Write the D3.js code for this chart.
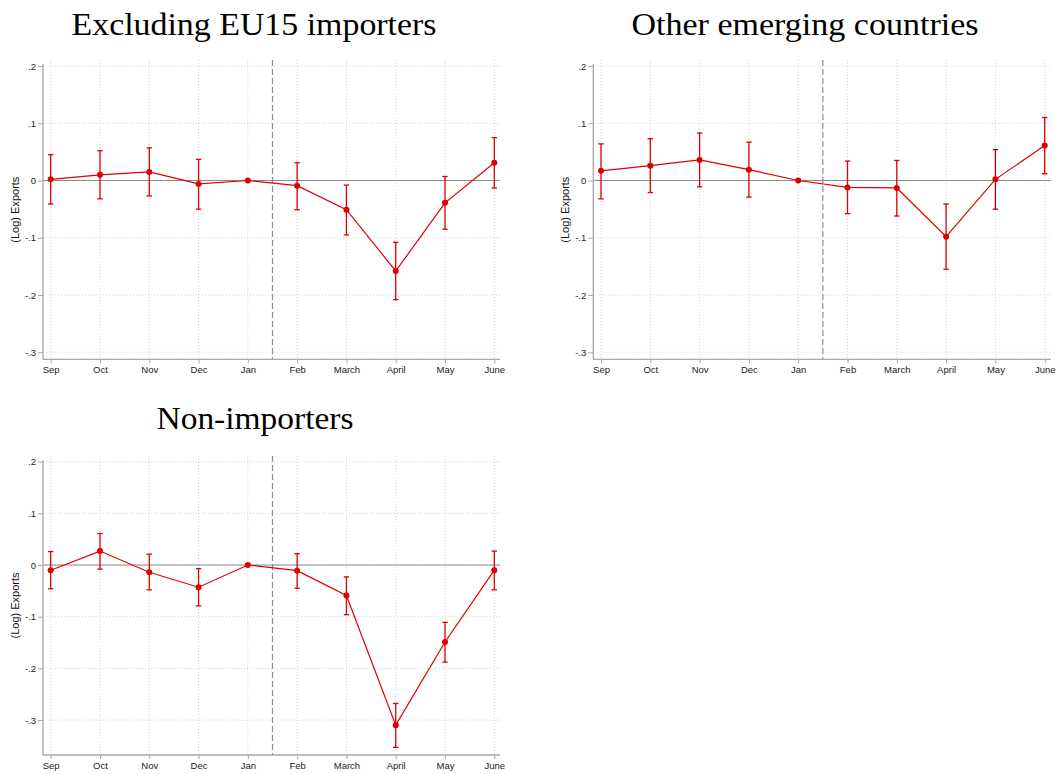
<!DOCTYPE html>
<html>
<head>
<meta charset="utf-8">
<script src="https://cdn.jsdelivr.net/npm/d3@7"></script>
<style>
  body { margin: 0; background: #fff; }
  svg { display: block; }
</style>
</head>
<body>
<svg id="chart" width="1057" height="774"></svg>
<script>
// ---- data ----
const months = ["Sep", "Oct", "Nov", "Dec", "Jan", "Feb", "March", "April", "May", "June"];
const yTicks = [0.2, 0.1, 0, -0.1, -0.2, -0.3];
const yTickLabels = [".2", ".1", "0", "-.1", "-.2", "-.3"];
const titles = ["Excluding EU15 importers", "Other emerging countries", "Non-importers"];

// Excluding EU15 importers
const eu15Coef = [0.002, 0.010, 0.015, -0.006, 0, -0.009, -0.051, -0.158, -0.039, 0.031];
const eu15Lo   = [-0.041, -0.032, -0.027, -0.050, null, -0.051, -0.095, -0.208, -0.085, -0.013];
const eu15Hi   = [0.045, 0.052, 0.057, 0.037, null, 0.031, -0.008, -0.108, 0.007, 0.075];

// Other emerging countries
const emCoef = [0.017, 0.026, 0.036, 0.019, 0, -0.012, -0.013, -0.098, 0.002, 0.061];
const emLo   = [-0.032, -0.021, -0.011, -0.029, null, -0.058, -0.062, -0.155, -0.050, 0.012];
const emHi   = [0.064, 0.073, 0.083, 0.067, null, 0.034, 0.035, -0.041, 0.054, 0.110];

// Non-importers
const nonCoef = [-0.010, 0.027, -0.014, -0.043, 0, -0.011, -0.059, -0.310, -0.149, -0.010];
const nonLo   = [-0.046, -0.008, -0.048, -0.079, null, -0.045, -0.096, -0.353, -0.188, -0.048];
const nonHi   = [0.026, 0.061, 0.021, -0.007, null, 0.022, -0.023, -0.268, -0.111, 0.027];

const eventPos = 4.5; // between Jan and Feb

// ---- layout ----
const panels = [
  { title: titles[0], coef: eu15Coef, lo: eu15Lo, hi: eu15Hi,
    left: 43, right: 500, top: 60, bottom: 359.3, x0: 50.7, x1: 494.3,
    yTop: 66, yBot: 352.3, titleX: 254, titleY: 35, titleW: 365 },
  { title: titles[1], coef: emCoef, lo: emLo, hi: emHi,
    left: 593.3, right: 1051, top: 60, bottom: 359.3, x0: 601, x1: 1044.7,
    yTop: 66, yBot: 352.3, titleX: 805, titleY: 35, titleW: 347 },
  { title: titles[2], coef: nonCoef, lo: nonLo, hi: nonHi,
    left: 43, right: 500, top: 456, bottom: 755, x0: 50.7, x1: 494.3,
    yTop: 461.7, yBot: 720, titleX: 255, titleY: 429.3, titleW: 197 }
];

const red = "#dd0000";
const axisCol = "#a8a8a8";
const svg = d3.select("#chart");

panels.forEach((p, pi) => {
  const g = svg.append("g");
  const x = d3.scaleLinear().domain([0, months.length - 1]).range([p.x0, p.x1]);
  const y = d3.scaleLinear().domain([-0.3, 0.2]).range([p.yBot, p.yTop]);

  // title
  g.append("text")
    .attr("x", p.titleX).attr("y", p.titleY)
    .attr("text-anchor", "middle")
    .attr("font-family", "'Liberation Serif', 'DejaVu Serif', serif")
    .attr("font-size", 32)
    .attr("textLength", p.titleW)
    .attr("lengthAdjust", "spacingAndGlyphs")
    .attr("fill", "#000")
    .text(p.title);

  // grid
  g.selectAll(".hgrid").data(yTicks).enter().append("line")
    .attr("x1", p.left).attr("x2", p.right)
    .attr("y1", d => y(d)).attr("y2", d => y(d))
    .attr("stroke", "#d4d4d4").attr("stroke-width", 1)
    .attr("stroke-dasharray", "1,2");
  g.selectAll(".vgrid").data(months).enter().append("line")
    .attr("x1", (d, i) => x(i)).attr("x2", (d, i) => x(i))
    .attr("y1", p.top).attr("y2", p.bottom)
    .attr("stroke", "#d4d4d4").attr("stroke-width", 1)
    .attr("stroke-dasharray", "1,2");

  // zero line
  g.append("line")
    .attr("x1", p.left).attr("x2", p.right)
    .attr("y1", y(0)).attr("y2", y(0))
    .attr("stroke", "#8c8c8c").attr("stroke-width", 1.2);

  // event line
  g.append("line")
    .attr("x1", x(eventPos)).attr("x2", x(eventPos))
    .attr("y1", p.top).attr("y2", p.bottom)
    .attr("stroke", "#8c8c8c").attr("stroke-width", 1.2)
    .attr("stroke-dasharray", "6,3");

  // y axis
  const yAxis = d3.axisLeft(y).tickValues(yTicks)
    .tickFormat((d, i) => yTickLabels[i]).tickSize(5).tickPadding(2);
  const ya = g.append("g").attr("transform", `translate(${p.left},0)`).call(yAxis);
  ya.select(".domain").remove();
  ya.selectAll(".tick line").attr("stroke", axisCol);
  ya.selectAll(".tick text").attr("font-family", "'Liberation Sans', Arial, sans-serif")
    .attr("font-size", 9.5).attr("fill", "#222");
  g.append("line").attr("x1", p.left).attr("x2", p.left)
    .attr("y1", p.top + 4).attr("y2", p.bottom)
    .attr("stroke", axisCol).attr("stroke-width", 1.3);

  // x axis
  const xAxis = d3.axisBottom(x).tickValues(d3.range(months.length))
    .tickFormat(i => months[i]).tickSize(4).tickPadding(3);
  const xa = g.append("g").attr("transform", `translate(0,${p.bottom})`).call(xAxis);
  xa.select(".domain").remove();
  xa.selectAll(".tick line").attr("stroke", axisCol);
  xa.selectAll(".tick text").attr("font-family", "'Liberation Sans', Arial, sans-serif")
    .attr("font-size", 9.5).attr("fill", "#222");
  g.append("line").attr("x1", p.left).attr("x2", p.right)
    .attr("y1", p.bottom).attr("y2", p.bottom)
    .attr("stroke", axisCol).attr("stroke-width", 1.3);

  // y label
  g.append("text")
    .attr("transform", `translate(${p.left - 24},${(p.top + p.bottom) / 2}) rotate(-90)`)
    .attr("text-anchor", "middle")
    .attr("font-family", "'Liberation Sans', Arial, sans-serif")
    .attr("font-size", 11).attr("fill", "#111")
    .text("(Log) Exports");

  // error bars
  const ci = months.map((m, i) => ({ i, lo: p.lo[i], hi: p.hi[i] })).filter(d => d.lo !== null);
  const eb = g.selectAll(".eb").data(ci).enter().append("g");
  const ebColor = d => (pi === 1 && d.i === 8) ? "#b00000" : red;
  eb.append("line")
    .attr("x1", d => x(d.i)).attr("x2", d => x(d.i))
    .attr("y1", d => y(d.lo)).attr("y2", d => y(d.hi))
    .attr("stroke", ebColor).attr("stroke-width", 1.3);
  eb.append("line")
    .attr("x1", d => x(d.i) - 2.7).attr("x2", d => x(d.i) + 2.7)
    .attr("y1", d => y(d.lo)).attr("y2", d => y(d.lo))
    .attr("stroke", ebColor).attr("stroke-width", 1.3);
  eb.append("line")
    .attr("x1", d => x(d.i) - 2.7).attr("x2", d => x(d.i) + 2.7)
    .attr("y1", d => y(d.hi)).attr("y2", d => y(d.hi))
    .attr("stroke", ebColor).attr("stroke-width", 1.3);

  // line
  const line = d3.line().x((d, i) => x(i)).y(d => y(d));
  g.append("path").datum(p.coef)
    .attr("d", line).attr("fill", "none")
    .attr("stroke", red).attr("stroke-width", 1.2);

  // points
  g.selectAll(".pt").data(p.coef).enter().append("circle")
    .attr("cx", (d, i) => x(i)).attr("cy", d => y(d))
    .attr("r", 3).attr("fill", red);
});
</script>
</body>
</html>
